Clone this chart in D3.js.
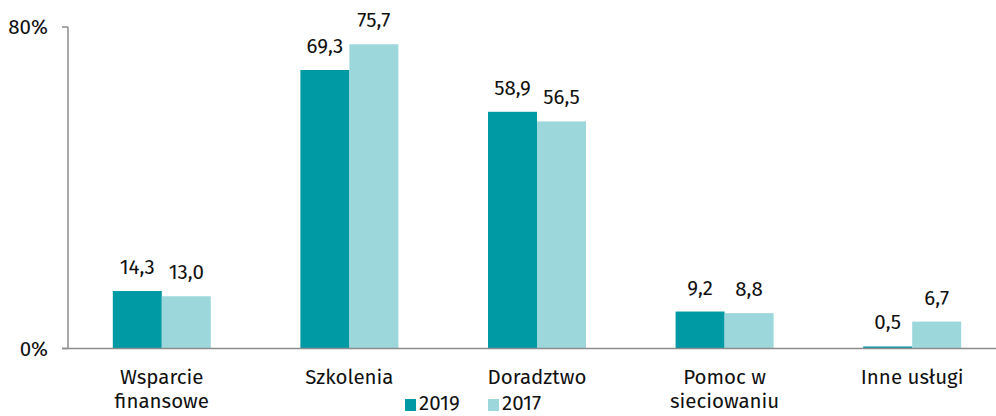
<!DOCTYPE html>
<html><head><meta charset="utf-8">
<script src="https://cdn.jsdelivr.net/npm/d3@7"></script>
<style>body{margin:0;background:#fff}svg{display:block}text{font-family:"Fira Sans","Noto Sans",sans-serif;fill:#111}</style>
</head><body>
<svg id="c" width="996" height="416"></svg>
<script>
const categories = [["Wsparcie","finansowe"],["Szkolenia"],["Doradztwo"],["Pomoc w","sieciowaniu"],["Inne usługi"]];
const seriesNames = ["2019","2017"];
const values2019 = [14.3, 69.3, 58.9, 9.2, 0.5];
const values2017 = [13.0, 75.7, 56.5, 8.8, 6.7];
const yTicks = [0, 80];
const colors = ["#009aa4","#9bd7db"];

const svg = d3.select("#c");
const x0 = 68, x1 = 1006, yTop = 27, yBot = 348.5;
const FS = 20.5;
const x = d3.scaleBand().domain(d3.range(categories.length)).range([x0, x1]).paddingInner(0).paddingOuter(0);
const y = d3.scaleLinear().domain([0, 80]).range([yBot, yTop]);
const barW = 49;
const fmt = v => v.toFixed(1).replace(".", ",");

// y axis
svg.append("line").attr("x1", x0).attr("x2", x0).attr("y1", y(80)).attr("y2", y(0)).attr("stroke","#8c8c8c").attr("stroke-width",1.5);
yTicks.forEach(t => {
  svg.append("line").attr("x1", x0-6).attr("x2", x0).attr("y1", y(t)).attr("y2", y(t)).attr("stroke","#8c8c8c").attr("stroke-width",1.5);
  svg.append("text").attr("x", 48).attr("y", y(t)).attr("dy","0.35em").attr("text-anchor","end").attr("font-size",FS).text(t+"%");
});

const series = [values2019, values2017];
series.forEach((vals, si) => {
  vals.forEach((v, i) => {
    const cx = x(i) + x.bandwidth()/2;
    const bx = cx - barW + si*barW;
    svg.append("rect").attr("x", bx).attr("y", y(v)).attr("width", barW).attr("height", y(0)-y(v)).attr("fill", colors[si]);
    svg.append("text").attr("x", bx + barW/2).attr("y", y(v) - 17).attr("text-anchor","middle").attr("font-size",FS).text(fmt(v));
  });
});

// zero line
svg.append("line").attr("x1", x0-6).attr("x2", 996).attr("y1", y(0)).attr("y2", y(0)).attr("stroke","#8c8c8c").attr("stroke-width",1.5);

// category labels
categories.forEach((lines, i) => {
  const cx = x(i) + x.bandwidth()/2;
  lines.forEach((l, li) => {
    svg.append("text").attr("x", cx).attr("y", 384 + li*24).attr("text-anchor","middle").attr("font-size",FS).text(l);
  });
});

// legend
const legX = [405, 488];
seriesNames.forEach((n, i) => {
  svg.append("rect").attr("x", legX[i]).attr("y", 399).attr("width", 11).attr("height", 12).attr("fill", colors[i]);
  svg.append("text").attr("x", legX[i] + 14).attr("y", 410).attr("font-size",FS).text(n);
});
</script>
</body></html>
